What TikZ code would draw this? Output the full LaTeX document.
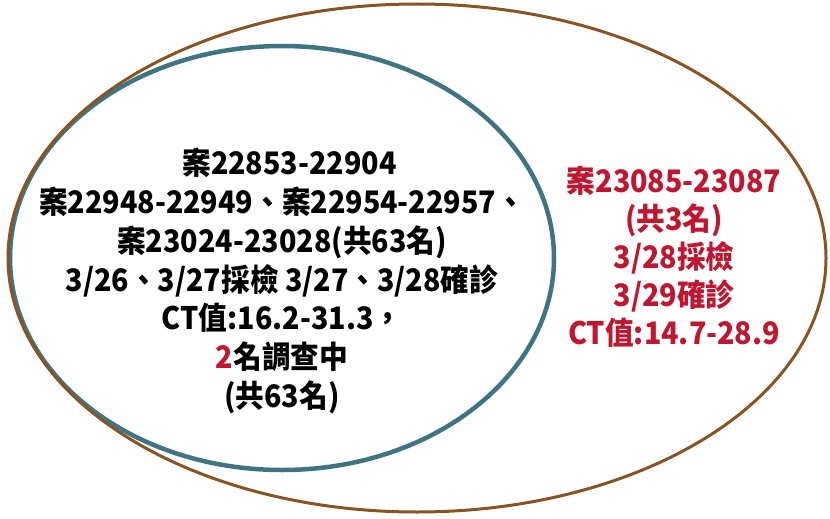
\documentclass[tikz,border=0pt]{standalone}
\usepackage{fontspec}
\newfontfamily\cjk[FakeStretch=0.925]{Noto Sans CJK TC}
\definecolor{outerbrown}{RGB}{138,84,34}
\definecolor{innerteal}{RGB}{62,116,132}
\definecolor{casered}{RGB}{192,22,48}
\tikzset{
  txt/.style={font=\cjk\bfseries\fontsize{31}{38.8}\selectfont, align=center, inner sep=0pt},
  redtxt/.style={txt, text=casered, font=\cjk\bfseries\fontsize{31}{38}\selectfont},
}
\begin{document}
\begin{tikzpicture}[x=1pt,y=-1pt]
\useasboundingbox (0,0) rectangle (830,519);
\fill[white] (0,0) rectangle (830,519);
\draw[innerteal, line width=4.5pt] (282,258) ellipse [x radius=272pt, y radius=212pt];
\draw[outerbrown, line width=3pt] (417,258) ellipse [x radius=409pt, y radius=254pt];
\node[txt] (leftgroup) at (282,281) {\hspace*{15pt}案22853-22904\\
案22948-22949、案22954-22957、\\
案23024-23028(共63名)\\
3/26、3/27採檢 3/27、3/28確診\\
CT值:16.2-31.3，\\
{\color{casered}2}名調查中\\
(共63名)};
\node[redtxt] (rightgroup) at (674,257) {案23085-23087\\
(共3名)\\
3/28採檢\\
3/29確診\\
CT值:14.7-28.9};
\end{tikzpicture}
\end{document}
